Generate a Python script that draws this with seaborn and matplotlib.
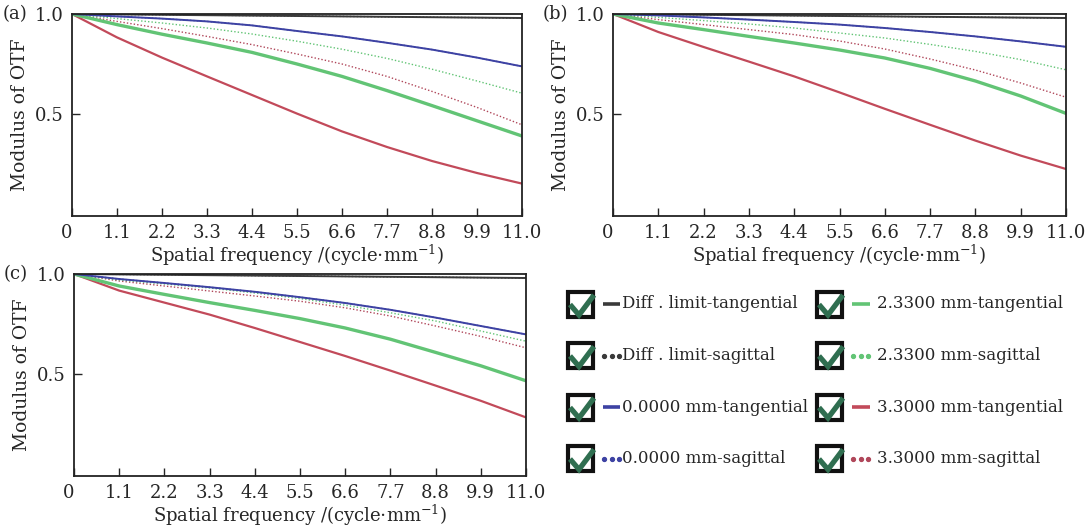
import numpy as np
import pandas as pd
import matplotlib
matplotlib.use('Agg')
import matplotlib.pyplot as plt
from matplotlib.patches import Rectangle
import seaborn as sns

# spatial frequency (cycle/mm)
freq = [0, 1.1, 2.2, 3.3, 4.4, 5.5, 6.6, 7.7, 8.8, 9.9, 11.0]
xtick_labels = ['0', '1.1', '2.2', '3.3', '4.4', '5.5', '6.6', '7.7', '8.8', '9.9', '11.0']

# diffraction limit (same for all panels)
diff_t = [1.0, 0.998, 0.996, 0.994, 0.992, 0.990, 0.988, 0.986, 0.984, 0.982, 0.980]
diff_s = [1.0, 0.998, 0.996, 0.994, 0.992, 0.990, 0.988, 0.986, 0.984, 0.982, 0.980]

# panel (a)
a_blue_t = [1.0, 0.988, 0.977, 0.963, 0.943, 0.915, 0.888, 0.856, 0.822, 0.782, 0.738]
a_blue_s = [1.0, 0.988, 0.977, 0.963, 0.943, 0.915, 0.888, 0.856, 0.822, 0.782, 0.738]
a_green_t = [1.0, 0.947, 0.899, 0.855, 0.808, 0.750, 0.688, 0.617, 0.542, 0.466, 0.390]
a_green_s = [1.0, 0.977, 0.955, 0.930, 0.900, 0.864, 0.824, 0.778, 0.724, 0.665, 0.604]
a_red_t = [1.0, 0.883, 0.782, 0.688, 0.595, 0.502, 0.413, 0.335, 0.265, 0.205, 0.152]
a_red_s = [1.0, 0.963, 0.927, 0.888, 0.847, 0.800, 0.750, 0.688, 0.613, 0.533, 0.446]

# panel (b)
b_blue_t = [1.0, 0.993, 0.983, 0.972, 0.960, 0.947, 0.930, 0.910, 0.888, 0.863, 0.836]
b_blue_s = [1.0, 0.993, 0.983, 0.972, 0.960, 0.947, 0.930, 0.910, 0.888, 0.863, 0.836]
b_green_t = [1.0, 0.955, 0.922, 0.888, 0.855, 0.820, 0.780, 0.728, 0.665, 0.590, 0.503]
b_green_s = [1.0, 0.983, 0.967, 0.950, 0.930, 0.905, 0.880, 0.848, 0.813, 0.772, 0.721]
b_red_t = [1.0, 0.910, 0.835, 0.762, 0.688, 0.608, 0.526, 0.446, 0.367, 0.292, 0.225]
b_red_s = [1.0, 0.972, 0.947, 0.922, 0.897, 0.865, 0.825, 0.775, 0.720, 0.655, 0.584]

# panel (c)
c_blue_t = [1.0, 0.975, 0.955, 0.934, 0.911, 0.884, 0.855, 0.821, 0.782, 0.740, 0.698]
c_blue_s = [1.0, 0.975, 0.955, 0.934, 0.911, 0.884, 0.855, 0.821, 0.782, 0.740, 0.698]
c_green_t = [1.0, 0.940, 0.898, 0.857, 0.818, 0.777, 0.730, 0.674, 0.608, 0.541, 0.466]
c_green_s = [1.0, 0.970, 0.950, 0.930, 0.905, 0.877, 0.844, 0.806, 0.765, 0.715, 0.664]
c_red_t = [1.0, 0.917, 0.857, 0.797, 0.730, 0.660, 0.590, 0.517, 0.442, 0.366, 0.283]
c_red_s = [1.0, 0.965, 0.940, 0.915, 0.890, 0.864, 0.831, 0.790, 0.740, 0.688, 0.631]

legend_labels = ['Diff . limit-tangential', 'Diff . limit-sagittal',
                 '0.0000 mm-tangential', '0.0000 mm-sagittal',
                 '2.3300 mm-tangential', '2.3300 mm-sagittal',
                 '3.3000 mm-tangential', '3.3000 mm-sagittal']

sns.set_style("ticks")
plt.rcParams['font.family'] = ['DejaVu Serif']
plt.rcParams['mathtext.fontset'] = 'dejavuserif'

# 颜色 / 线型
styles = {
    'diff_t': dict(color='#3a3a3a', lw=1.4, ls='-'),
    'diff_s': dict(color='#3a3a3a', lw=1.0, ls=(0, (1, 1.5))),
    'blue_t': dict(color='#3d42a3', lw=1.4, ls='-'),
    'blue_s': dict(color='#3d42a3', lw=1.0, ls=(0, (1, 1.5))),
    'green_t': dict(color='#62c475', lw=2.4, ls='-'),
    'green_s': dict(color='#62c475', lw=1.0, ls=(0, (1, 1.5))),
    'red_t': dict(color='#c24a5a', lw=1.6, ls='-'),
    'red_s': dict(color='#b0475a', lw=1.0, ls=(0, (1, 1.5))),
}

panels = {
    '(a)': dict(diff_t=diff_t, diff_s=diff_s, blue_t=a_blue_t, blue_s=a_blue_s, green_t=a_green_t,
                green_s=a_green_s, red_t=a_red_t, red_s=a_red_s),
    '(b)': dict(diff_t=diff_t, diff_s=diff_s, blue_t=b_blue_t, blue_s=b_blue_s, green_t=b_green_t,
                green_s=b_green_s, red_t=b_red_t, red_s=b_red_s),
    '(c)': dict(diff_t=diff_t, diff_s=diff_s, blue_t=c_blue_t, blue_s=c_blue_s, green_t=c_green_t,
                green_s=c_green_s, red_t=c_red_t, red_s=c_red_s),
}

W, H = 1089, 527
fig = plt.figure(figsize=(W / 100, H / 100), dpi=100)

# axes boxes in pixels: left, top, right, bottom
boxes = {'(a)': (72, 14, 522, 216), '(b)': (613, 14, 1066, 216), '(c)': (74, 274, 526, 476)}

draw_order = ['diff_t', 'diff_s', 'red_s', 'green_s', 'blue_s', 'red_t', 'green_t', 'blue_t']

for name, curves in panels.items():
    l, t, r, b = boxes[name]
    ax = fig.add_axes([l / W, 1 - b / H, (r - l) / W, (b - t) / H])
    for key in draw_order:
        st = styles[key]
        sns.lineplot(x=freq, y=curves[key], ax=ax, color=st['color'], linewidth=st['lw'],
                     linestyle=st['ls'], legend=False)
    ax.set_xlim(0, 11.0)
    ax.set_ylim(-0.01, 1.0)
    ax.set_xticks(freq)
    ax.set_xticklabels(xtick_labels)
    ax.set_yticks([0.5, 1.0])
    ax.set_yticklabels(['0.5', '1.0'])
    ax.tick_params(direction='in', length=6, width=1, labelsize=13, pad=6)
    ax.get_xticklabels()[0].set_horizontalalignment('right')
    for sp in ax.spines.values():
        sp.set_linewidth(1.3)
        sp.set_color('#222222')
    ax.set_xlabel('Spatial frequency /(cycle$\\cdot$mm$^{-1}$)', fontsize=13, labelpad=0)
    ax.set_ylabel('Modulus of OTF', fontsize=13.5, labelpad=4)
    ax.text(-0.155, 1.0, name, transform=ax.transAxes, fontsize=13, ha='left', va='center')

# legend panel (drawn in pixel coordinates)
lg = fig.add_axes([0, 0, 1, 1])
lg.set_xlim(0, W)
lg.set_ylim(H, 0)
lg.axis('off')
lg.patch.set_visible(False)

rows_y = [304, 355.5, 407, 458.5]
cols = [dict(box=566, line=(603, 620), text=622),
        dict(box=815, line=(852, 870), text=877)]
legend_keys = ['diff_t', 'diff_s', 'blue_t', 'blue_s', 'green_t', 'green_s', 'red_t', 'red_s']

for i, (key, label) in enumerate(zip(legend_keys, legend_labels)):
    col = cols[i // 4]
    y = rows_y[i % 4]
    bx = col['box']
    lg.add_patch(Rectangle((bx + 1.5, y - 12.5), 25.5, 25, facecolor='white', edgecolor='#111111', lw=3))
    lg.plot([bx + 4, bx + 13, bx + 28], [y + 0.5, y + 11, y - 9], color='#2f6e50', lw=3.8,
            solid_capstyle='butt', solid_joinstyle='miter')
    st = styles[key]
    x0, x1 = col['line']
    if st['ls'] == '-':
        lg.plot([x0, x1], [y, y], color=st['color'], lw=2.6, solid_capstyle='butt')
    else:
        lg.plot([x0 + 1, x0 + 8.5, x0 + 16], [y, y, y], color=st['color'], ls='none', marker='o', ms=2.8)
    lg.text(col['text'], y, label, fontsize=12, ha='left', va='center')

fig.savefig('out.png', dpi=100)
